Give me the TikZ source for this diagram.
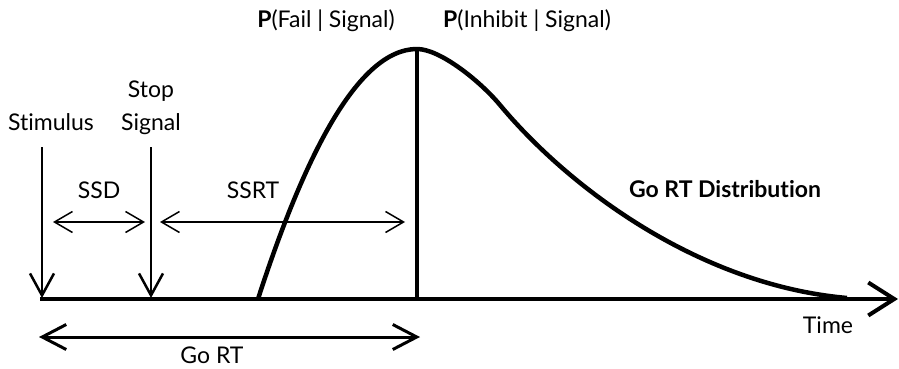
\documentclass[tikz,border=0pt]{standalone}
\usepackage{fontspec}
\setmainfont{Lato}[Ligatures=NoCommon]
\usetikzlibrary{arrows.meta}

\begin{document}
\begin{tikzpicture}[
        x=1pt, y=-1pt,
        % Styles des textes
        lbl/.style={font=\fontsize{23}{27}\selectfont, inner sep=0pt, anchor=base},
        % Styles des traits
        axis/.style={line width=4pt, -{Straight Barb[length=26pt, width=33pt]}},
        cue/.style={line width=2.5pt, -{Straight Barb[length=22pt, width=24pt]}},
        gap/.style={line width=1.5pt, {Straight Barb[length=18pt, width=21pt]}-{Straight Barb[length=18pt, width=21pt]}},
        span/.style={line width=3pt, {Straight Barb[length=24pt, width=25pt]}-{Straight Barb[length=24pt, width=25pt]}},
        dens/.style={line width=4.5pt, line join=round},
    ]
        \useasboundingbox (0,0) rectangle (899,369);

        %% ── Points de repère ──
        \coordinate (t0)     at (40,299);
        \coordinate (tend)   at (898,299);
        \coordinate (stimhi) at (42,147);
        \coordinate (stimlo) at (42,298);
        \coordinate (stophi) at (151,147);
        \coordinate (stoplo) at (151,298);
        \coordinate (ssdl)   at (53,222);
        \coordinate (ssdr)   at (145,222);
        \coordinate (ssrtl)  at (160,222);
        \coordinate (ssrtr)  at (405,222);
        \coordinate (gol)    at (39,337);
        \coordinate (gor)    at (420,337);
        \coordinate (peak)   at (417,49);
        \coordinate (foot)   at (417,299);

        %% ── Textes ──
        \node[lbl] (stim)  at (51,130)  {Stimulus};
        \node[lbl] (stop)  at (151,97)  {Stop};
        \node[lbl] (sig)   at (151,130) {Signal};
        \node[lbl] (ssd)   at (99,198)  {SSD};
        \node[lbl] (ssrt)  at (253,198) {SSRT};
        \node[lbl] (gort)  at (212,363) {Go RT};
        \node[lbl] (pfail) at (326,28)  {\textbf{P}(Fail | Signal)};
        \node[lbl] (pinh)  at (527,28)  {\textbf{P}(Inhibit | Signal)};
        \node[lbl] (dist)  at (725,197) {\textbf{Go RT Distribution}};
        \node[lbl] (time)  at (828,333) {Time};

        %% ── Axe et flèches ──
        \draw[axis] (t0) -- (tend);
        \draw[cue]  (stimhi) -- (stimlo);
        \draw[cue]  (stophi) -- (stoplo);
        \draw[gap]  (ssdl) -- (ssdr);
        \draw[gap]  (ssrtl) -- (ssrtr);
        \draw[span] (gol) -- (gor);

        %% ── Distribution ──
        \draw[line width=3.5pt] (foot) -- (peak);
        \draw[dens] (258,299) .. controls (303,160) and (357,49) .. (peak)
                    .. controls (440,49) and (480,81) .. (500,105)
                    .. controls (570,189) and (700,285) .. (847,298);

    \end{tikzpicture}
\end{document}
